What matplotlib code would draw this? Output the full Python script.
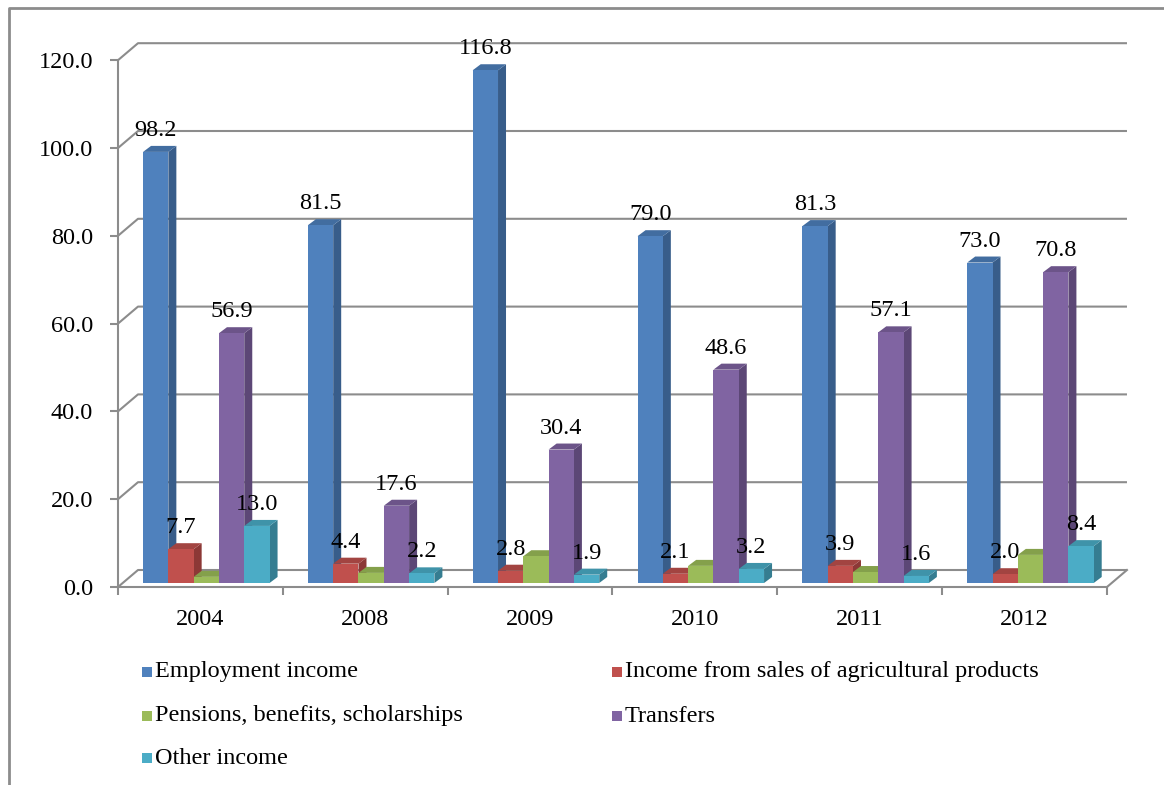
import matplotlib.pyplot as plt
from matplotlib.patches import Polygon, Rectangle
from matplotlib.lines import Line2D

# Data
years = ['2004', '2008', '2009', '2010', '2011', '2012']
employment = [98.2, 81.5, 116.8, 79.0, 81.3, 73.0]
agri_sales = [7.7, 4.4, 2.8, 2.1, 3.9, 2.0]
pensions = [1.4, 2.3, 6.1, 3.9, 2.5, 6.4]  # no labels on the chart, estimated
transfers = [56.9, 17.6, 30.4, 48.6, 57.1, 70.8]
other = [13.0, 2.2, 1.9, 3.2, 1.6, 8.4]

series_names = ['Employment income', 'Income from sales of agricultural products',
                'Pensions, benefits, scholarships', 'Transfers', 'Other income']
series = [employment, agri_sales, pensions, transfers, other]
show_labels = [True, True, False, True, True]

front_cols = ['#4F81BD', '#C0504D', '#9BBB59', '#8064A2', '#4BACC6']
side_cols = ['#385D8A', '#8C3836', '#71893F', '#5C4776', '#357D91']
top_cols = ['#426DA0', '#A24441', '#84A04B', '#6C5489', '#3F93A9']

W, H = 1164, 785
fig = plt.figure(figsize=(W / 100, H / 100), dpi=100)
plt.rcParams['font.family'] = ['Liberation Serif', 'DejaVu Serif']
FS = 17.5
GRID = '#8C8C8C'

# axes placed in pixels so the pseudo-3D offsets can be given in pixels
ax_l, ax_r, ax_t, ax_b = 118, 1150, 20, 600
x_px = 164.83   # pixels per category
y_px = 4.39     # pixels per value unit
ax = fig.add_axes([ax_l / W, (H - ax_b) / H, (ax_r - ax_l) / W, (ax_b - ax_t) / H])
ax.set_xlim(0, (ax_r - ax_l) / x_px)
ax.set_ylim(-(ax_b - 587) / y_px, (587 - ax_t) / y_px)


def dx(p):
    return p / x_px


def dy(p):
    return p / y_px


# back wall gridlines
wall_x, wall_y = 20, 17
n = len(years)
for v in range(0, 121, 20):
    ax.plot([0, dx(wall_x), n + dx(wall_x)], [v, v + dy(wall_y), v + dy(wall_y)],
            color=GRID, lw=1.5, zorder=1, solid_capstyle='butt')
# floor right edge
ax.plot([n, n + dx(wall_x)], [0, dy(wall_y)], color=GRID, lw=1.5, zorder=1)

# bars
bar_off = 0.152
bar_w = 0.1535
base = dy(4)
dep_x, dep_y = dx(8), dy(6)
for j in range(n):
    for i, vals in enumerate(series):
        v = vals[j]
        x0 = j + bar_off + i * bar_w
        x1 = x0 + bar_w
        ax.add_patch(Polygon([(x1, base), (x1 + dep_x, base + dep_y),
                              (x1 + dep_x, base + v + dep_y), (x1, base + v)],
                             closed=True, fc=side_cols[i], ec='none', zorder=2))
        ax.add_patch(Polygon([(x0, base + v), (x1, base + v),
                              (x1 + dep_x, base + v + dep_y), (x0 + dep_x, base + v + dep_y)],
                             closed=True, fc=top_cols[i], ec='none', zorder=2))
        ax.bar(x0, v, width=bar_w, bottom=base, align='edge', color=front_cols[i],
               edgecolor='none', zorder=2)

# data labels
for j in range(n):
    for i, vals in enumerate(series):
        if not show_labels[i]:
            continue
        xc = j + bar_off + (i + 0.5) * bar_w
        ax.annotate(f'{vals[j]:.1f}', (xc, base + vals[j]), xytext=(0, 11.5),
                    textcoords='offset points', ha='center', va='baseline',
                    fontsize=FS, zorder=5)

# axes lines and ticks
for s in ['top', 'right']:
    ax.spines[s].set_visible(False)
ax.spines['left'].set_bounds(0, 120)
ax.spines['bottom'].set_position(('data', 0))
ax.spines['bottom'].set_bounds(0, n)
for s in ['left', 'bottom']:
    ax.spines[s].set_color(GRID)
    ax.spines[s].set_linewidth(1.5)
    ax.spines[s].set_zorder(3)
ax.set_yticks(range(0, 121, 20))
ax.set_yticklabels([f'{v:.1f}' for v in range(0, 121, 20)], fontsize=FS)
ax.tick_params(axis='y', length=6, width=1.5, color=GRID, pad=12)
ax.set_xticks(range(n + 1))
ax.set_xticklabels([''] * (n + 1))
ax.set_xticks([j + 0.5 for j in range(n)], minor=True)
ax.set_xticklabels(years, minor=True, fontsize=FS)
ax.tick_params(axis='x', which='major', length=6, width=1.5, color=GRID)
ax.tick_params(axis='x', which='minor', length=0, pad=16)
ax.patch.set_visible(False)

# legend, laid out row by row like the original
leg_pos = [(142, 672), (612, 672), (142, 716), (612, 716), (142, 758)]
for i, name in enumerate(series_names):
    lx, ly = leg_pos[i]
    fig.patches.append(Rectangle((lx / W, (H - ly - 5) / H), 10 / W, 10 / H,
                                 transform=fig.transFigure, fc=front_cols[i], ec='none'))
    fig.text((lx + 13) / W, (H - ly) / H, name, fontsize=FS, va='center', ha='left')

# chart area border (top and left edges visible)
fig.lines.append(Line2D([9 / W, 9 / W, 1], [0, (H - 8) / H, (H - 8) / H],
                        transform=fig.transFigure, color='#8C8C8C', lw=2))

fig.savefig('out.png', dpi=100, facecolor='white')
